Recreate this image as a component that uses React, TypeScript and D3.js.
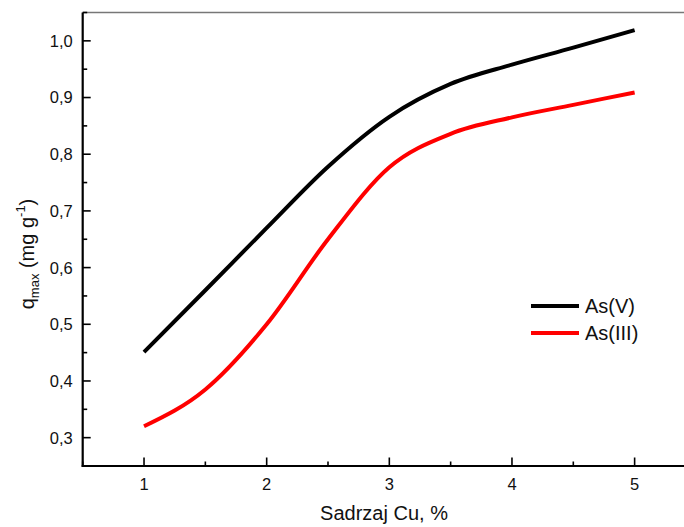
import React from "react";
import * as d3 from "d3";

const cuContent = [1, 1.5, 2, 2.5, 3, 3.5, 4, 4.5, 5];
const asV = [0.451, 0.56, 0.67, 0.778, 0.866, 0.924, 0.958, 0.988, 1.019];
const asIII = [0.32, 0.385, 0.5, 0.65, 0.777, 0.836, 0.865, 0.887, 0.909];
const seriesNames = ["As(V)", "As(III)"];
const seriesColors = ["#000000", "#ff0000"];
const xTicks = [1, 2, 3, 4, 5];
const xMinor = [0.5, 1.5, 2.5, 3.5, 4.5, 5.5];
const yTicks = [0.3, 0.4, 0.5, 0.6, 0.7, 0.8, 0.9, 1.0];
const yMinor = [0.35, 0.45, 0.55, 0.65, 0.75, 0.85, 0.95, 1.05];

const W = 684;
const H = 527;
const left = 82.7;
const bottom = 466;
const top = 12.5;

export default function App() {
  const x = d3.scaleLinear().domain([0.5, 5.5]).range([left, left + 5 * 122.65]);
  const y = d3.scaleLinear().domain([0.25, 1.05]).range([bottom, top]);
  const line = d3
    .line<[number, number]>()
    .x((d) => x(d[0]))
    .y((d) => y(d[1]))
    .curve(d3.curveMonotoneX);
  const series = [asV, asIII].map((vals) => cuContent.map((c, i) => [c, vals[i]] as [number, number]));
  const font = "'Liberation Sans', Arial, sans-serif";

  return (
    <div style={{ position: "fixed", left: 0, top: 0 }}>
      <svg width={W} height={H} style={{ display: "block", background: "#fff" }} fontFamily={font}>
        {/* top frame */}
        <line x1={left} x2={W + 20} y1={top} y2={top} stroke="#777" strokeWidth={1.5} />
        {/* curves */}
        {series.map((s, i) => (
          <path key={i} d={line(s) || ""} fill="none" stroke={seriesColors[i]} strokeWidth={4} />
        ))}
        {/* axes */}
        <line x1={left} x2={left} y1={top} y2={bottom + 1} stroke="#000" strokeWidth={2.2} />
        <line x1={left - 1} x2={W + 20} y1={bottom} y2={bottom} stroke="#000" strokeWidth={2.2} />
        {yTicks.map((t) => (
          <g key={"y" + t}>
            <line x1={left} x2={left + 8} y1={y(t)} y2={y(t)} stroke="#000" strokeWidth={1.6} />
            <text x={72.7} y={y(t)} dy="0.36em" textAnchor="end" fontSize={16.5} fill="#111">
              {t.toFixed(1).replace(".", ",")}
            </text>
          </g>
        ))}
        {yMinor.map((t) => (
          <line key={"ym" + t} x1={left} x2={left + 4.5} y1={y(t)} y2={y(t)} stroke="#000" strokeWidth={1.6} />
        ))}
        {xTicks.map((t) => (
          <g key={"x" + t}>
            <line x1={x(t)} x2={x(t)} y1={bottom} y2={bottom - 8.5} stroke="#000" strokeWidth={1.6} />
            <text x={x(t)} y={489.5} textAnchor="middle" fontSize={16.5} fill="#111">
              {t}
            </text>
          </g>
        ))}
        {xMinor.map((t) => (
          <line key={"xm" + t} x1={x(t)} x2={x(t)} y1={bottom} y2={bottom - 4.5} stroke="#000" strokeWidth={1.6} />
        ))}
        {/* x title */}
        <text x={384} y={520} textAnchor="middle" fontSize={20} fill="#111">
          Sadrzaj Cu, %
        </text>
        {/* y title */}
        <text transform="translate(34,254) rotate(-90)" textAnchor="middle" fontSize={20} fill="#111">
          q
          <tspan fontSize={13} dy={5}>max</tspan>
          <tspan dy={-5}>{"  (mg g"}</tspan>
          <tspan fontSize={13} dy={-9}>-1</tspan>
          <tspan dy={9}>)</tspan>
        </text>
        {/* legend */}
        {seriesNames.map((n, i) => (
          <g key={n}>
            <line x1={531} x2={579} y1={306 + i * 27} y2={306 + i * 27} stroke={seriesColors[i]} strokeWidth={4} />
            <text x={585} y={306 + i * 27} dy="0.36em" fontSize={20} fill="#111">
              {n}
            </text>
          </g>
        ))}
      </svg>
    </div>
  );
}
